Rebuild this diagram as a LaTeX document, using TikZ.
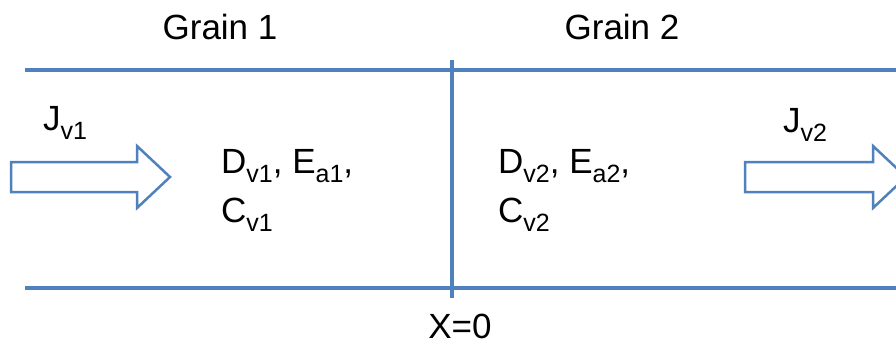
\documentclass[tikz,border=0pt]{standalone}
\usepackage{fontspec}
\setmainfont{Liberation Sans}
\definecolor{lineblue}{HTML}{4F81BD}
\newcommand\sbs[1]{\raisebox{-9pt}{\fontsize{25}{25}\selectfont #1}}
\begin{document}
\begin{tikzpicture}[x=1pt,y=-1pt,
  bar/.style={draw=lineblue,line width=3.5pt},
  fatarrow/.style={draw=lineblue,line width=2.5pt,fill=white,line join=miter},
  lbl/.style={inner sep=0pt,font=\fontsize{35}{35}\selectfont}]
\useasboundingbox (0,0) rectangle (896,345);
\clip (0,0) rectangle (896,345);
% lines
\coordinate (tl) at (25,70);
\coordinate (tr) at (900,70);
\coordinate (bl) at (25,288);
\coordinate (br) at (900,288);
\coordinate (vt) at (452,60);
\coordinate (vb) at (452,298);
\draw[bar] (tl) -- (tr);
\draw[bar] (bl) -- (br);
\draw[bar] (vt) -- (vb);
% arrows
\draw[fatarrow] (11,162) -- (137,162) -- (137,146) -- (170,177) -- (137,208) -- (137,192) -- (11,192) -- cycle;
\draw[fatarrow] (745,162) -- (873,162) -- (873,146) -- (906,177) -- (873,208) -- (873,192) -- (745,192) -- cycle;
% texts
\node[lbl,anchor=base] (g1) at (220,40) {Grain 1};
\node[lbl,anchor=base] (g2) at (622,40) {Grain 2};
\node[lbl,anchor=base] (x0) at (460,338) {X=0};
\node[lbl,anchor=base west] (j1) at (43,130) {J\sbs{v1}};
\node[lbl,anchor=base west] (j2) at (783,132) {J\sbs{v2}};
\node[lbl,anchor=base west] (d1) at (221,173) {D\sbs{v1}, E\sbs{a1},};
\node[lbl,anchor=base west] (c1) at (221,222) {C\sbs{v1}};
\node[lbl,anchor=base west] (d2) at (498,173) {D\sbs{v2}, E\sbs{a2},};
\node[lbl,anchor=base west] (c2) at (498,222) {C\sbs{v2}};
\end{tikzpicture}
\end{document}
